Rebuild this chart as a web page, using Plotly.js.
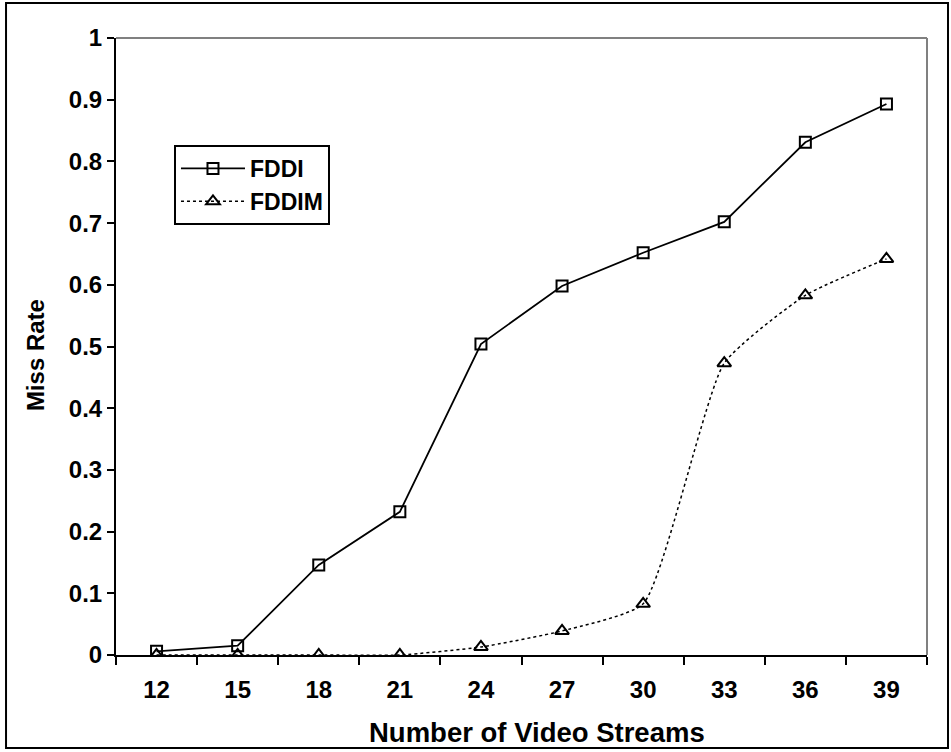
<!DOCTYPE html>
<html>
<head>
<meta charset="utf-8">
<script src="https://cdn.plot.ly/plotly-3.0.1.min.js"></script>
<style>
html,body{margin:0;padding:0;background:#fff;}
#chart{width:951px;height:752px;}
</style>
</head>
<body>
<div id="chart"></div>
<script>
const categories = ["12","15","18","21","24","27","30","33","36","39"];
const fddi  = [0.006, 0.015, 0.146, 0.232, 0.504, 0.598, 0.652, 0.702, 0.831, 0.893];
const fddim = [0.000, 0.000, 0.000, 0.000, 0.013, 0.039, 0.083, 0.473, 0.583, 0.642];
const yTicks = [0,0.1,0.2,0.3,0.4,0.5,0.6,0.7,0.8,0.9,1];
const yTickText = ["0","0.1","0.2","0.3","0.4","0.5","0.6","0.7","0.8","0.9","1"];
const xTitle = "Number of Video Streams";
const yTitle = "Miss Rate";

const font = {family: "Liberation Sans, Arial, sans-serif", color: "#000"};
const f = s => Object.assign({size: s}, font);

const traces = [
  {
    x: categories, y: fddi, name: "<b>FDDI</b>", type: "scatter", mode: "lines+markers",
    line: {color: "#000", width: 1.8},
    marker: {symbol: "square-open", size: 11, color: "#000", line: {width: 2, color: "#000"}}
  },
  {
    x: categories, y: fddim, name: "<b>FDDIM</b>", type: "scatter", mode: "lines+markers",
    line: {color: "#000", width: 1.5, dash: "dot", shape: "spline", smoothing: 0.5},
    marker: {symbol: "triangle-up-open", size: 12, color: "#000", line: {width: 2, color: "#000"}}
  }
];

const layout = {
  width: 951, height: 752,
  margin: {l: 116, r: 24, t: 38, b: 97},
  paper_bgcolor: "#fff", plot_bgcolor: "#fff",
  font: f(24),
  showlegend: true,
  legend: {
    x: 0.0715, y: 0.8266, xanchor: "left", yanchor: "top",
    bgcolor: "#fff", bordercolor: "#000", borderwidth: 2,
    font: f(23), tracegroupgap: 0, itemwidth: 64
  },
  xaxis: {
    type: "category", range: [-0.5, 9.5], tickson: "boundaries",
    ticks: "outside", ticklen: 8, tickwidth: 2, tickcolor: "#000",
    showline: true, linecolor: "#000", linewidth: 2,
    showgrid: false, zeroline: false,
    tickfont: f(24), ticklabelstandoff: 12,
    tickprefix: "<b>", ticksuffix: "</b>"
  },
  yaxis: {
    range: [0, 1], tickvals: yTicks, ticktext: yTickText.map(t => "<b>" + t + "</b>"),
    ticks: "outside", ticklen: 7, tickwidth: 2, tickcolor: "#000",
    showline: true, linecolor: "#000", linewidth: 2,
    showgrid: false, zeroline: false,
    tickfont: f(24)
  },
  annotations: [
    {text: "<b>" + xTitle + "</b>", xref: "paper", yref: "paper", x: 0.519, y: -0.1264,
     xanchor: "center", yanchor: "middle", showarrow: false, font: f(27.5)},
    {text: "<b>" + yTitle + "</b>", xref: "paper", yref: "paper", x: -0.0999, y: 0.486,
     xanchor: "center", yanchor: "middle", showarrow: false, textangle: -90, font: f(24)}
  ],
  shapes: [
    {type: "line", xref: "paper", yref: "paper", x0: 0, x1: 1, y0: 1, y1: 1, line: {color: "#808080", width: 2}},
    {type: "line", xref: "paper", yref: "paper", x0: 1, x1: 1, y0: 0, y1: 1, line: {color: "#808080", width: 2}},
    {type: "rect", xref: "paper", yref: "paper", x0: -0.1356, x1: 1.0259, y0: -0.1507, y1: 1.0567, line: {color: "#000", width: 2}}
  ]
};

Plotly.newPlot("chart", traces, layout, {displayModeBar: false, staticPlot: true});
</script>
</body>
</html>
